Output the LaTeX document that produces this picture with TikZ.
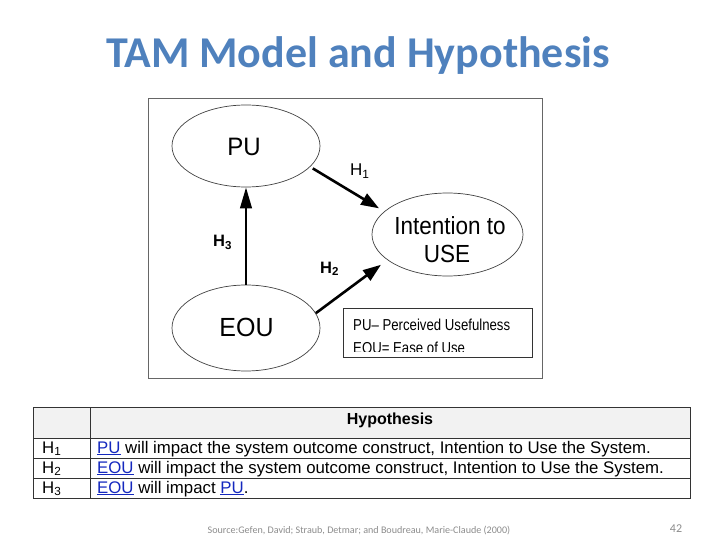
\documentclass[tikz,border=0pt]{standalone}
\usepackage{fontspec}
\usepackage{graphicx}
\setmainfont{Liberation Sans}
\newfontfamily\calib{Carlito}
\usetikzlibrary{shapes.geometric,arrows.meta}
\definecolor{titleblue}{RGB}{79,129,189}
\definecolor{linkblue}{RGB}{20,40,190}
\definecolor{hdrgray}{RGB}{242,242,242}
\definecolor{foot}{RGB}{140,140,140}
\newcommand{\fsz}[1]{\fontsize{#1}{#1}\selectfont}
\newcommand{\lnk}[1]{\textcolor{linkblue}{\underline{#1}}}
\newcommand{\tall}[2]{\scalebox{1}[#1]{#2}}
\tikzset{
  ell/.style={draw=black!75, line width=0.7pt, ellipse, inner sep=0pt},
  arr/.style={line width=2.6pt, -{Triangle[length=18pt,width=12.5pt]}},
  lbl/.style={inner sep=0pt, anchor=base west},
  cell/.style={inner sep=0pt, anchor=base west, font=\fsz{16.8}},
  tline/.style={draw=black!80, line width=0.8pt}
}
\begin{document}
\begin{tikzpicture}[x=1pt,y=-1pt]
\useasboundingbox (0,0) rectangle (720,540);
% title
\node[inner sep=0pt, anchor=base, text=titleblue, font=\calib\bfseries\fsz{44}] (title) at (358,68) {TAM Model and Hypothesis};
% figure frame
\draw[draw=black!60, line width=0.8pt] (148,98) rectangle (542,378);
% ellipses
\node[ell, minimum width=148pt, minimum height=82pt] (PU) at (246,146) {};
\node[ell, minimum width=148pt, minimum height=86pt] (EOU) at (246,328) {};
\node[ell, minimum width=151pt, minimum height=83pt] (INT) at (447.5,234.5) {};
\node[inner sep=0pt, font=\fsz{24}] (PUt) at (244,146.5) {\tall{1.05}{PU}};
\node[inner sep=0pt, font=\fsz{25}] (EOUt) at (246.5,327.5) {\tall{1.05}{EOU}};
\node[inner sep=0pt, anchor=base, font=\fsz{22.5}] (INTa) at (450,235) {\tall{1.1}{Intention to}};
\node[inner sep=0pt, anchor=base, font=\fsz{22.5}] (INTb) at (447,262) {\tall{1.1}{USE}};
% arrows
\draw[arr, shorten <=3pt, shorten >=6pt] (PU.-18) -- (INT.160);
\draw[arr, shorten >=8pt] (EOU.12) -- (INT.203);
\draw[line width=2.6pt, -{Triangle[length=21pt,width=11.5pt]}] (EOU.north) -- (PU.south);
% hypothesis labels
\node[lbl, font=\fsz{17}] (H1) at (350,176) {H\textsubscript{1}};
\node[lbl, font=\bfseries\fsz{16.5}] (H2) at (320,273) {H\textsubscript{2}};
\node[lbl, font=\bfseries\fsz{16.5}] (H3) at (213,247) {H\textsubscript{3}};
% legend
\begin{scope}
\clip (343,308) rectangle (532,351.5);
\node[lbl, font=\fsz{13.2}] (L1) at (353,330) {\tall{1.2}{PU– Perceived Usefulness}};
\node[lbl, font=\fsz{13.2}] (L2) at (353,353.5) {\tall{1.2}{EOU= Ease of Use}};
\end{scope}
\draw[draw=black!80, line width=0.8pt] (343,308) rectangle (532,357);
% table
\fill[hdrgray] (33,407) rectangle (690,438);
\draw[tline] (33,407) rectangle (690,498);
\draw[tline] (90,407) -- (90,498);
\draw[tline] (33,438) -- (690,438);
\draw[tline] (33,458) -- (690,458);
\draw[tline] (33,478) -- (690,478);
\node[inner sep=0pt, anchor=base, font=\bfseries\fsz{16}] (hyp) at (390,424) {Hypothesis};
\node[cell] (r1a) at (42,453) {H\textsubscript{1}};
\node[cell] (r2a) at (42,473) {H\textsubscript{2}};
\node[cell] (r3a) at (42,493) {H\textsubscript{3}};
\node[cell] (r1b) at (97,453) {\lnk{PU} will impact the system outcome construct, Intention to Use the System.};
\node[cell] (r2b) at (97,473) {\lnk{EOU} will impact the system outcome construct, Intention to Use the System.};
\node[cell] (r3b) at (97,493) {\lnk{EOU} will impact \lnk{PU}.};
% footer
\node[inner sep=0pt, anchor=base, text=foot, font=\calib\fsz{10.1}] (src) at (359,533) {Source:Gefen, David; Straub, Detmar; and Boudreau, Marie-Claude (2000)};
\node[inner sep=0pt, anchor=base, text=foot, font=\calib\fsz{12}] (pg) at (676,532) {42};
\end{tikzpicture}
\end{document}
